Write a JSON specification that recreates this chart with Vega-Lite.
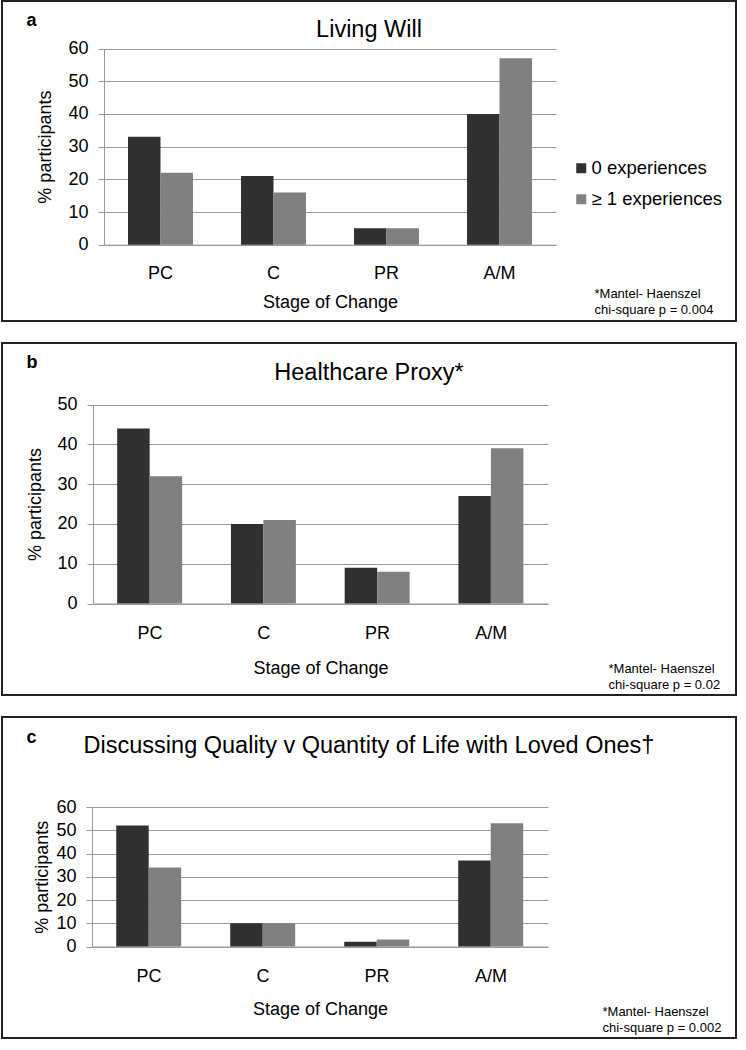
{
  "$schema": "https://vega.github.io/schema/vega-lite/v6.json",
  "padding": {"left": 1, "top": 0, "right": 0, "bottom": 0},
  "background": "white",
  "spacing": 22,
  "bounds": "flush",
  "datasets": {
    "a": [
      {"stage": "PC", "group": "0 experiences", "pct": 33},
      {"stage": "PC", "group": "≥ 1 experiences", "pct": 22},
      {"stage": "C", "group": "0 experiences", "pct": 21},
      {"stage": "C", "group": "≥ 1 experiences", "pct": 16},
      {"stage": "PR", "group": "0 experiences", "pct": 5},
      {"stage": "PR", "group": "≥ 1 experiences", "pct": 5},
      {"stage": "A/M", "group": "0 experiences", "pct": 40},
      {"stage": "A/M", "group": "≥ 1 experiences", "pct": 57}
    ],
    "b": [
      {"stage": "PC", "group": "0 experiences", "pct": 44},
      {"stage": "PC", "group": "≥ 1 experiences", "pct": 32},
      {"stage": "C", "group": "0 experiences", "pct": 20},
      {"stage": "C", "group": "≥ 1 experiences", "pct": 21},
      {"stage": "PR", "group": "0 experiences", "pct": 9},
      {"stage": "PR", "group": "≥ 1 experiences", "pct": 8},
      {"stage": "A/M", "group": "0 experiences", "pct": 27},
      {"stage": "A/M", "group": "≥ 1 experiences", "pct": 39}
    ],
    "c": [
      {"stage": "PC", "group": "0 experiences", "pct": 52},
      {"stage": "PC", "group": "≥ 1 experiences", "pct": 34},
      {"stage": "C", "group": "0 experiences", "pct": 10},
      {"stage": "C", "group": "≥ 1 experiences", "pct": 10},
      {"stage": "PR", "group": "0 experiences", "pct": 2},
      {"stage": "PR", "group": "≥ 1 experiences", "pct": 3},
      {"stage": "A/M", "group": "0 experiences", "pct": 37},
      {"stage": "A/M", "group": "≥ 1 experiences", "pct": 53}
    ]
  },
  "vconcat": [
    {
      "width": 734,
      "height": 320,
      "data": {"name": "a"},
      "title": {"text": "Living Will", "offset": -40},
      "layer": [
        {
          "transform": [{"filter": "datum.group === '0 experiences'"}],
          "mark": {"type": "bar"},
          "encoding": {
            "x": {"field": "stage", "type": "nominal", "sort": ["PC", "C", "PR", "A/M"],
              "scale": {"range": [102, 554], "paddingInner": 0.425, "paddingOuter": 0.2125},
              "axis": {"orient": "bottom", "offset": -76.3, "title": "Stage of Change", "titleY": 62.7, "titleBaseline": "alphabetic", "labelAngle": 0, "ticks": false, "tickSize": 0, "labelPadding": 20, "grid": false}},
            "xOffset": {"field": "group", "type": "nominal", "scale": {"domain": ["0 experiences", "≥ 1 experiences"]}},
            "y": {"field": "pct", "type": "quantitative",
              "scale": {"domain": [0, 60], "range": [243.7, 47.5], "nice": false},
              "axis": {"orient": "left", "offset": -102, "values": [0, 10, 20, 30, 40, 50, 60], "title": "% participants", "titlePadding": 13, "grid": true, "tickSize": 6, "labelPadding": 10}},
            "color": {"field": "group", "type": "nominal",
              "scale": {"domain": ["0 experiences", "≥ 1 experiences"], "range": ["#303030", "#808080"]},
              "legend": {"orient": "none", "legendX": 570, "legendY": 158, "title": null}}
          }
        },
        {
          "transform": [{"filter": "datum.group !== '0 experiences'"}],
          "mark": {"type": "bar"},
          "encoding": {
            "x": {"field": "stage", "type": "nominal", "sort": ["PC", "C", "PR", "A/M"],
              "scale": {"range": [102, 554], "paddingInner": 0.425, "paddingOuter": 0.2125},
              "axis": {"orient": "top", "labels": false, "ticks": false, "domain": false, "grid": false, "title": "a", "titleX": 24, "titleY": 24, "titleAlign": "left", "titleBaseline": "alphabetic", "titleFontWeight": "bold", "titleFontSize": 18}},
            "xOffset": {"field": "group", "type": "nominal", "scale": {"domain": ["0 experiences", "≥ 1 experiences"]}},
            "y": {"field": "pct", "type": "quantitative",
              "scale": {"domain": [0, 60], "range": [243.7, 47.5], "nice": false},
              "axis": {"orient": "right", "labels": false, "ticks": false, "domain": false, "grid": false, "title": ["*Mantel- Haenszel", "chi-square p = 0.004"], "titleAngle": 0, "titleX": -142, "titleY": 292, "titleAlign": "left", "titleBaseline": "middle", "titleFontSize": 13, "titleLineHeight": 16}},
            "color": {"field": "group", "type": "nominal",
              "scale": {"domain": ["0 experiences", "≥ 1 experiences"], "range": ["#303030", "#808080"]},
              "legend": {"orient": "none", "legendX": 570, "legendY": 158, "title": null}}
          }
        }
      ],
      "resolve": {"axis": {"x": "independent", "y": "independent"}}
    },
    {
      "width": 734,
      "height": 352,
      "data": {"name": "b"},
      "title": {"text": "Healthcare Proxy*", "offset": -41},
      "layer": [
        {
          "transform": [{"filter": "datum.group === '0 experiences'"}],
          "mark": {"type": "bar"},
          "encoding": {
            "x": {"field": "stage", "type": "nominal", "sort": ["PC", "C", "PR", "A/M"],
              "scale": {"range": [91, 546], "paddingInner": 0.425, "paddingOuter": 0.2125},
              "axis": {"orient": "bottom", "offset": -91.5, "title": "Stage of Change", "titleY": 69.6, "titleBaseline": "alphabetic", "labelAngle": 0, "ticks": false, "tickSize": 0, "labelPadding": 21, "grid": false}},
            "xOffset": {"field": "group", "type": "nominal", "scale": {"domain": ["0 experiences", "≥ 1 experiences"]}},
            "y": {"field": "pct", "type": "quantitative",
              "scale": {"domain": [0, 50], "range": [260.5, 61.5], "nice": false},
              "axis": {"orient": "left", "offset": -91, "values": [0, 10, 20, 30, 40, 50], "title": "% participants", "titlePadding": 12, "grid": true, "tickSize": 6, "labelPadding": 10}},
            "color": {"field": "group", "type": "nominal",
              "scale": {"domain": ["0 experiences", "≥ 1 experiences"], "range": ["#303030", "#808080"]},
              "legend": {"orient": "none", "legendX": 570, "legendY": 175, "title": null}}
          }
        },
        {
          "transform": [{"filter": "datum.group !== '0 experiences'"}],
          "mark": {"type": "bar"},
          "encoding": {
            "x": {"field": "stage", "type": "nominal", "sort": ["PC", "C", "PR", "A/M"],
              "scale": {"range": [91, 546], "paddingInner": 0.425, "paddingOuter": 0.2125},
              "axis": {"orient": "top", "labels": false, "ticks": false, "domain": false, "grid": false, "title": "b", "titleX": 24, "titleY": 24, "titleAlign": "left", "titleBaseline": "alphabetic", "titleFontWeight": "bold", "titleFontSize": 18}},
            "xOffset": {"field": "group", "type": "nominal", "scale": {"domain": ["0 experiences", "≥ 1 experiences"]}},
            "y": {"field": "pct", "type": "quantitative",
              "scale": {"domain": [0, 50], "range": [260.5, 61.5], "nice": false},
              "axis": {"orient": "right", "labels": false, "ticks": false, "domain": false, "grid": false, "title": ["*Mantel- Haenszel", "chi-square p = 0.02"], "titleAngle": 0, "titleX": -128, "titleY": 325, "titleAlign": "left", "titleBaseline": "middle", "titleFontSize": 13, "titleLineHeight": 16}},
            "color": {"field": "group", "type": "nominal",
              "scale": {"domain": ["0 experiences", "≥ 1 experiences"], "range": ["#303030", "#808080"]},
              "legend": {"orient": "none", "legendX": 570, "legendY": 175, "title": null}}
          }
        }
      ],
      "resolve": {"axis": {"x": "independent", "y": "independent"}}
    },
    {
      "width": 734,
      "height": 321,
      "data": {"name": "c"},
      "title": {"text": "Discussing Quality v Quantity of Life with Loved Ones†", "offset": -40},
      "layer": [
        {
          "transform": [{"filter": "datum.group === '0 experiences'"}],
          "mark": {"type": "bar"},
          "encoding": {
            "x": {"field": "stage", "type": "nominal", "sort": ["PC", "C", "PR", "A/M"],
              "scale": {"range": [90, 546], "paddingInner": 0.425, "paddingOuter": 0.2125},
              "axis": {"orient": "bottom", "offset": -91.5, "title": "Stage of Change", "titleY": 68, "titleBaseline": "alphabetic", "labelAngle": 0, "ticks": false, "tickSize": 0, "labelPadding": 21, "grid": false}},
            "xOffset": {"field": "group", "type": "nominal", "scale": {"domain": ["0 experiences", "≥ 1 experiences"]}},
            "y": {"field": "pct", "type": "quantitative",
              "scale": {"domain": [0, 60], "range": [229.5, 90], "nice": false},
              "axis": {"orient": "left", "offset": -90, "values": [0, 10, 20, 30, 40, 50, 60], "title": "% participants", "titlePadding": 4, "grid": true, "tickSize": 6, "labelPadding": 10}},
            "color": {"field": "group", "type": "nominal",
              "scale": {"domain": ["0 experiences", "≥ 1 experiences"], "range": ["#303030", "#808080"]},
              "legend": {"orient": "none", "legendX": 570, "legendY": 173, "title": null}}
          }
        },
        {
          "transform": [{"filter": "datum.group !== '0 experiences'"}],
          "mark": {"type": "bar"},
          "encoding": {
            "x": {"field": "stage", "type": "nominal", "sort": ["PC", "C", "PR", "A/M"],
              "scale": {"range": [90, 546], "paddingInner": 0.425, "paddingOuter": 0.2125},
              "axis": {"orient": "top", "labels": false, "ticks": false, "domain": false, "grid": false, "title": "c", "titleX": 24, "titleY": 25, "titleAlign": "left", "titleBaseline": "alphabetic", "titleFontWeight": "bold", "titleFontSize": 18}},
            "xOffset": {"field": "group", "type": "nominal", "scale": {"domain": ["0 experiences", "≥ 1 experiences"]}},
            "y": {"field": "pct", "type": "quantitative",
              "scale": {"domain": [0, 60], "range": [229.5, 90], "nice": false},
              "axis": {"orient": "right", "labels": false, "ticks": false, "domain": false, "grid": false, "title": ["*Mantel- Haenszel", "chi-square p = 0.002"], "titleAngle": 0, "titleX": -134, "titleY": 294, "titleAlign": "left", "titleBaseline": "middle", "titleFontSize": 13, "titleLineHeight": 16}},
            "color": {"field": "group", "type": "nominal",
              "scale": {"domain": ["0 experiences", "≥ 1 experiences"], "range": ["#303030", "#808080"]},
              "legend": {"orient": "none", "legendX": 570, "legendY": 173, "title": null}}
          }
        }
      ],
      "resolve": {"axis": {"x": "independent", "y": "independent"}}
    }
  ],
  "config": {
    "font": "Liberation Sans",
    "view": {"stroke": "#222222", "strokeWidth": 2},
    "title": {"anchor": "middle", "frame": "group", "fontSize": 23.5, "fontWeight": "normal", "color": "#000000", "font": "Liberation Sans"},
    "axis": {"domainColor": "#999999", "tickColor": "#999999", "gridColor": "#999999", "gridOpacity": 1, "labelColor": "#000000", "titleColor": "#000000", "labelFont": "Liberation Sans", "titleFont": "Liberation Sans", "labelFontSize": 18, "titleFontSize": 18, "titleFontWeight": "normal", "domainWidth": 1, "gridWidth": 1, "tickWidth": 1},
    "legend": {"symbolType": "square", "symbolSize": 100, "symbolStrokeWidth": 0, "labelFontSize": 18.5, "labelFont": "Liberation Sans", "labelColor": "#000000", "labelOffset": 1, "rowPadding": 12, "padding": 0, "labelLimit": 300},
    "bar": {"stroke": null}
  }
}
